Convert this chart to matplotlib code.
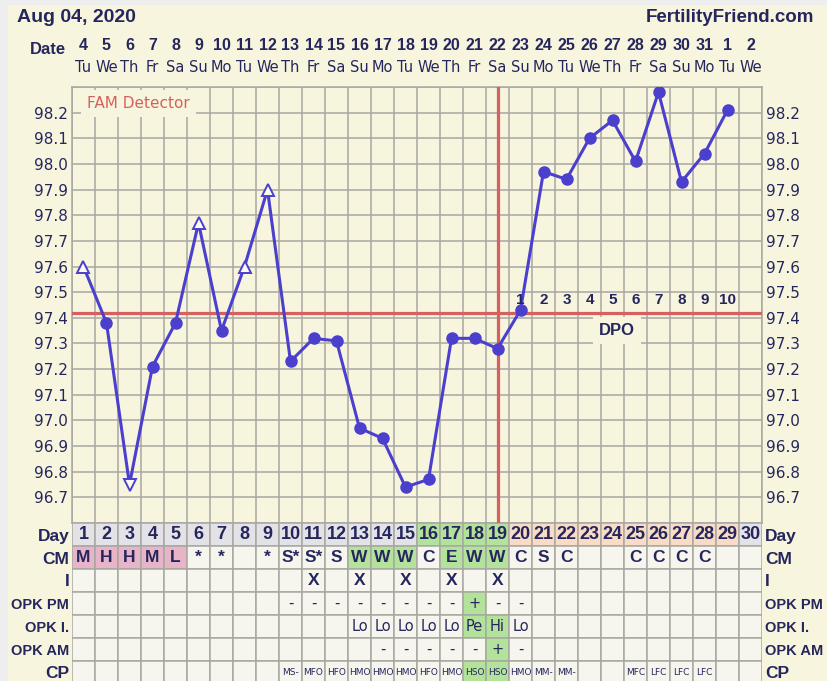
import matplotlib.pyplot as plt
import numpy as np
from matplotlib.patches import Rectangle

W, H = 828, 681

# chart data
dates = ["4", "5", "6", "7", "8", "9", "10", "11", "12", "13", "14", "15", "16", "17", "18",
         "19", "20", "21", "22", "23", "24", "25", "26", "27", "28", "29", "30", "31", "1", "2"]
weekdays = ["Tu", "We", "Th", "Fr", "Sa", "Su", "Mo", "Tu", "We", "Th", "Fr", "Sa", "Su", "Mo", "Tu",
            "We", "Th", "Fr", "Sa", "Su", "Mo", "Tu", "We", "Th", "Fr", "Sa", "Su", "Mo", "Tu", "We"]
cycle_days = list(range(1, 31))
temps = [97.60, 97.38, 96.75, 97.21, 97.38, 97.77, 97.35, 97.60, 97.90, 97.23,
         97.32, 97.31, 96.97, 96.93, 96.74, 96.77, 97.32, 97.32, 97.28, 97.43,
         97.97, 97.94, 98.10, 98.17, 98.01, 98.28, 97.93, 98.04, 98.21, np.nan]
open_up_days = [1, 6, 8, 9]
open_down_days = [3]
coverline = 97.42
ovulation_day = 19
dpo_days = [20, 21, 22, 23, 24, 25, 26, 27, 28, 29]

row_names = ["Day", "CM", "I", "OPK PM", "OPK I.", "OPK AM", "CP"]
cm_row = ["M", "H", "H", "M", "L", "*", "*", "", "*", "S*", "S*", "S", "W", "W", "W",
          "C", "E", "W", "W", "C", "S", "C", "", "", "C", "C", "C", "C", "", ""]
i_row = ["", "", "", "", "", "", "", "", "", "", "X", "", "X", "", "X",
         "", "X", "", "X", "", "", "", "", "", "", "", "", "", "", ""]
opk_pm_row = ["", "", "", "", "", "", "", "", "", "-", "-", "-", "-", "-", "-",
              "-", "-", "+", "-", "-", "", "", "", "", "", "", "", "", "", ""]
opk_i_row = ["", "", "", "", "", "", "", "", "", "", "", "", "Lo", "Lo", "Lo",
             "Lo", "Lo", "Pe", "Hi", "Lo", "", "", "", "", "", "", "", "", "", ""]
opk_am_row = ["", "", "", "", "", "", "", "", "", "", "", "", "", "-", "-",
              "-", "-", "-", "+", "-", "", "", "", "", "", "", "", "", "", ""]
cp_row = ["", "", "", "", "", "", "", "", "", "MS-", "MFO", "HFO", "HMO", "HMO", "HMO",
          "HFO", "HMO", "HSO", "HSO", "HMO", "MM-", "MM-", "", "", "MFC", "LFC", "LFC", "LFC", "", ""]

day_green = [16, 17, 18, 19]
day_peach = [20, 21, 22, 23, 24, 25, 26, 27, 28, 29]
cm_pink = [1, 2, 3, 4, 5]
green_cells = {"CM": [13, 14, 15, 17, 18, 19], "OPK PM": [18], "OPK I.": [18, 19],
               "OPK AM": [19], "CP": [18, 19]}

# colours / fonts
CREAM = "#f7f5de"
CELL = "#f6f6ef"
GRID = "#a8a8a2"
NAVY = "#26265e"
BLUE = "#4b3fcd"
RED = "#d4615f"
GREEN = "#b3e39b"
PEACH = "#f8dcc6"
PINK = "#e7b5c7"
GREY = "#e3e3e7"
BOLD_FAM = ["Liberation Sans", "DejaVu Sans"]
BOLD = dict(family=BOLD_FAM, weight="bold", color=NAVY)
NORM = dict(family=["DejaVu Sans"], color=NAVY)

fig = plt.figure(figsize=(W / 100, H / 100), dpi=100)
fig.patch.set_facecolor("#eeeeee")
fig.add_artist(Rectangle((8 / W, 0), 1, 1 - 5 / H, transform=fig.transFigure,
                         fc=CREAM, ec="none", zorder=0))

fig.text(17 / W, 1 - 17 / H, "Aug 04, 2020", ha="left", va="center", fontsize=14, **BOLD)
fig.text(814 / W, 1 - 17 / H, "FertilityFriend.com", ha="right", va="center", fontsize=13.5, **BOLD)
fig.text(48 / W, 1 - 50 / H, "Date", ha="center", va="center", fontsize=12, **BOLD)

# temperature chart
ax = fig.add_axes([72 / W, 1 - 523 / H, 690 / W, 436 / H])
ax.set_facecolor(CREAM)
ax.set_xlim(0.5, 30.5)
ax.set_ylim(96.6, 98.3)
yt = np.round(np.arange(96.6, 98.31, 0.1), 1)
ax.set_yticks(yt)
ax.set_yticklabels(["" if v in (96.6, 98.3) else f"{v:.1f}" for v in yt])
ax.set_xticks(np.arange(0.5, 31, 1))
ax.set_xticklabels([])
ax.tick_params(length=0, labelleft=True, labelright=True, labelsize=11,
               labelcolor=NAVY, pad=3)
ax.grid(True, color=GRID, lw=1.1)
for s in ax.spines.values():
    s.set_color(GRID)
    s.set_linewidth(1.1)

xt = ax.get_xaxis_transform()
for d, lab, wd in zip(cycle_days, dates, weekdays):
    ax.text(d, 1 + 42 / 436, lab, transform=xt, ha="center", va="center", fontsize=11.5, **BOLD)
    ax.text(d, 1 + 19 / 436, wd, transform=xt, ha="center", va="center", fontsize=10.5, **NORM)

days = np.array(cycle_days)
t = np.array(temps, dtype=float)
up = np.isin(days, open_up_days)
down = np.isin(days, open_down_days)
filled = ~(up | down)

ax.axhline(coverline, color=RED, lw=2.3, zorder=3)
ax.axvline(ovulation_day, color=RED, lw=2.3, zorder=3)
ax.plot(days, t, color=BLUE, lw=2.2, zorder=4)
ax.plot(days[filled], t[filled], "o", ms=8, color=BLUE, zorder=5)
ax.plot(days[up], t[up], "^", ms=9, mfc="#fbfbf4", mec=BLUE, mew=1.4, zorder=5)
ax.plot(days[down], t[down], "v", ms=9, mfc="#fbfbf4", mec=BLUE, mew=1.4, zorder=5)

for i, d in enumerate(dpo_days):
    ax.text(d, 97.47, str(i + 1), ha="center", va="center", fontsize=11, zorder=6, **BOLD)
ax.text(24.2, 97.35, "DPO", ha="center", va="center", fontsize=12, zorder=6,
        bbox=dict(fc=CREAM, ec="none", boxstyle="square,pad=0.35"), **BOLD)
ax.text(1.15, 98.235, "FAM Detector", ha="left", va="center", fontsize=11, color=RED,
        family="DejaVu Sans", zorder=6,
        bbox=dict(fc=CREAM, ec="none", boxstyle="square,pad=0.4"))

# observation table
tb = fig.add_axes([72 / W, 1 - 684 / H, 690 / W, 161 / H])
tb.set_xlim(0.5, 30.5)
tb.set_ylim(7, 0)
tb.set_xticks([])
tb.set_yticks(np.arange(7) + 0.5)
tb.set_yticklabels(row_names)
tb.tick_params(length=0, labelleft=True, labelright=True, pad=2)
for lab in tb.get_yticklabels():
    size = 10.5 if lab.get_text().startswith("OPK") else 12.5
    lab.set_fontproperties({"family": BOLD_FAM, "weight": "bold", "size": size})
    lab.set_color(NAVY)
for s in tb.spines.values():
    s.set_visible(False)

row_text = {"Day": [str(d) for d in cycle_days], "CM": cm_row, "I": i_row, "OPK PM": opk_pm_row,
            "OPK I.": opk_i_row, "OPK AM": opk_am_row, "CP": cp_row}

for r, name in enumerate(row_names):
    for d in cycle_days:
        fc = CELL
        if name == "Day":
            fc = GREEN if d in day_green else PEACH if d in day_peach else GREY
        elif name == "CM" and d in cm_pink:
            fc = PINK
        elif d in green_cells.get(name, []):
            fc = GREEN
        tb.add_patch(Rectangle((d - 0.5, r), 1, 1, fc=fc, ec=GRID, lw=1.1))
        txt = row_text[name][d - 1]
        if not txt:
            continue
        if name in ("Day", "CM", "I"):
            tb.text(d, r + 0.5, txt, ha="center", va="center",
                    fontsize=13 if name == "Day" else 12.5, **BOLD)
        elif name == "CP":
            tb.text(d, r + 0.5, txt, ha="center", va="center", fontsize=6.5, **NORM)
        else:
            tb.text(d, r + 0.5, txt, ha="center", va="center", fontsize=10.5, **NORM)

fig.savefig("out.png", dpi=100, facecolor=fig.get_facecolor())
